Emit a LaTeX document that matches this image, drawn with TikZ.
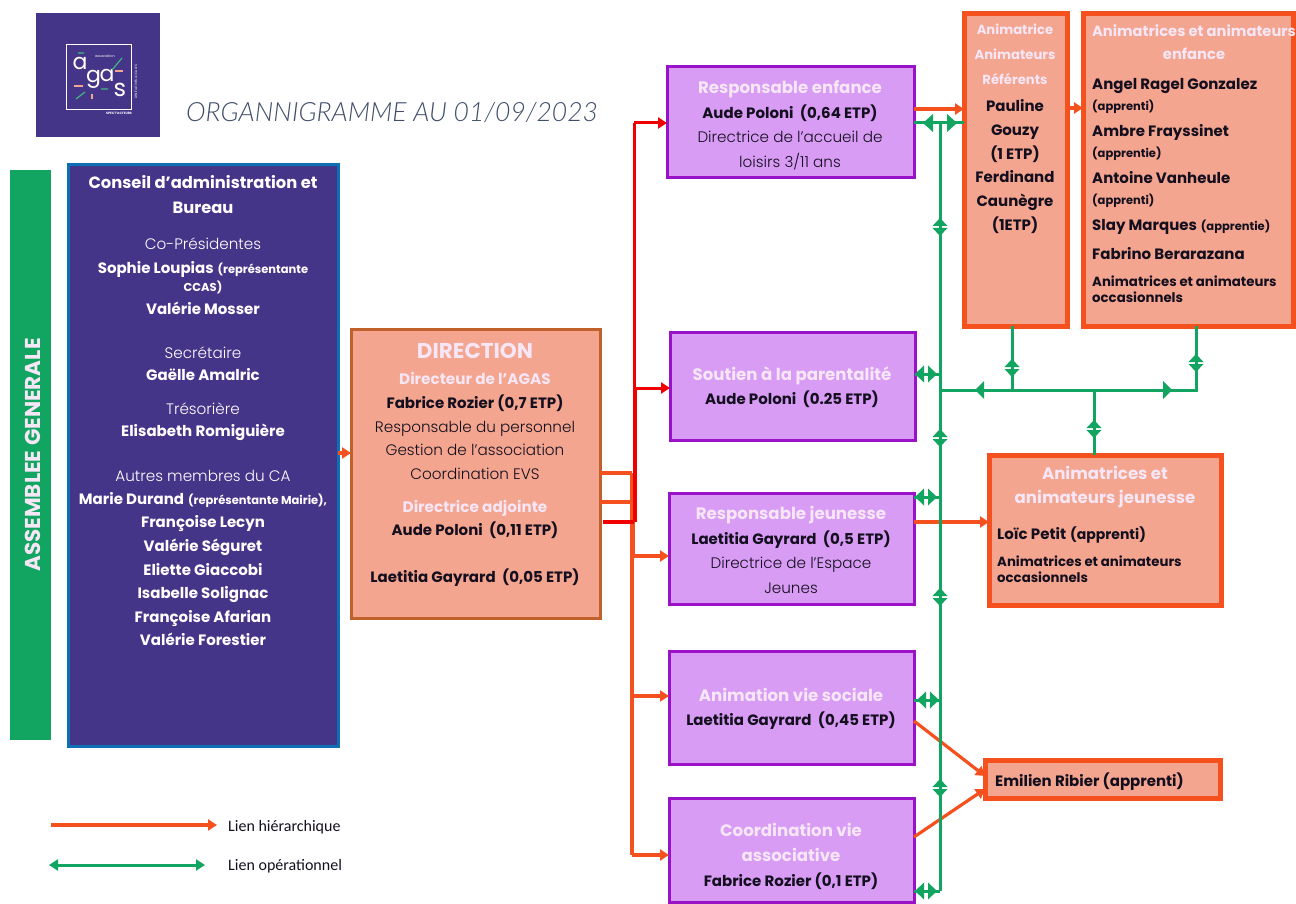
\documentclass[tikz,border=0pt]{standalone}
\usepackage{fontspec}
\setmainfont{Poppins}
\newfontfamily\lightf{Poppins Light}
\newfontfamily\titlef{Lato Light}[ItalicFont=Lato Light Italic]
\newfontfamily\legf{Carlito}
\usetikzlibrary{arrows.meta,calc}
\definecolor{navy}{HTML}{453589}
\definecolor{bleu}{HTML}{0F6FB5}
\definecolor{vert}{HTML}{12A561}
\definecolor{oran}{HTML}{F4511E}
\definecolor{rouge}{HTML}{F00000}
\definecolor{saumon}{HTML}{F4A58F}
\definecolor{brun}{HTML}{C0602A}
\definecolor{violet}{HTML}{9A12C8}
\definecolor{mauve}{HTML}{D89CF5}
\definecolor{pale}{HTML}{F6E6F6}
\definecolor{encre}{HTML}{140F1E}
\definecolor{titre}{HTML}{3F4D68}
\newcommand{\nm}[1]{{\bfseries #1}}
\newcommand{\sm}[1]{{\fontsize{11.5}{22}\selectfont\bfseries #1}}
\newcommand{\hd}[1]{{\color{pale}\fontsize{16.6}{22}\selectfont\bfseries #1}}
\newcommand{\hds}[1]{{\color{pale}\fontsize{14.7}{22}\selectfont\bfseries #1}}
\newcommand{\hdd}[1]{{\color{pale}\fontsize{15.2}{22}\selectfont\bfseries #1}}
\newcommand{\hda}[1]{{\color{pale}\fontsize{13.2}{22}\selectfont\bfseries #1}}
\newcommand{\lt}[1]{{\lightf\fontsize{15.2}{22}\selectfont #1}}
\newcommand{\occ}[1]{{\fontsize{13.3}{16}\selectfont\bfseries #1}}
\newcommand{\gud}[2]{\fill[vert] (#1-7.5,#2-1) -- (#1,#2-9) -- (#1+7.5,#2-1) -- cycle (#1-7.5,#2+1) -- (#1,#2+9) -- (#1+7.5,#2+1) -- cycle;}
\newcommand{\glr}[2]{\fill[vert] (#1-2,#2-8.5) -- (#1-11,#2) -- (#1-2,#2+8.5) -- cycle (#1+2,#2-8.5) -- (#1+11,#2) -- (#1+2,#2+8.5) -- cycle;}
\tikzset{
  box/.style={draw,line width=#1,anchor=north west,inner sep=0pt,outer sep=0pt},
  pbox/.style={box=3pt,draw=violet,fill=mauve},
  obox/.style={box=5pt,draw=oran,fill=saumon},
  txt/.style={anchor=north,align=center,inner sep=0pt,text=encre,font=\fontsize{15}{22}\selectfont},
  ltxt/.style={anchor=north west,align=left,inner sep=0pt,text=encre,font=\fontsize{15}{22}\selectfont},
  hier/.style={draw=oran,line width=3.2pt,-{Triangle[length=9pt,width=11pt]}},
  hierp/.style={draw=oran,line width=3.2pt},
  rg/.style={draw=rouge,line width=3pt},
  op/.style={draw=vert,line width=3pt},
}
\begin{document}
\begin{tikzpicture}[x=1pt,y=-1pt]
\useasboundingbox (0,0) rectangle (1296,904);
% logo
\node[anchor=north west,fill=navy,minimum width=124pt,minimum height=124pt,inner sep=0pt,outer sep=0pt] (logo) at (36,13) {};
\node[draw=white,line width=1.2pt,anchor=north west,minimum width=65pt,minimum height=65pt,inner sep=0pt] (logoin) at (66,44) {};
\node[text=white,inner sep=0pt,font=\fontsize{22}{22}\selectfont] (la1) at (80,63) {a};
\node[text=white,inner sep=0pt,font=\fontsize{22}{22}\selectfont] (lg) at (93.5,79) {g};
\node[text=white,inner sep=0pt,font=\fontsize{22}{22}\selectfont] (la2) at (107,75) {a};
\node[text=white,inner sep=0pt,font=\fontsize{24}{24}\selectfont] (ls) at (120,90) {s};
\node[text=white,inner sep=0pt,font=\fontsize{3.4}{4}\selectfont] (lassoc) at (105,56) {association};
\node[text=white,inner sep=0pt,rotate=90,font=\fontsize{3.2}{4}\selectfont] (lini) at (136,82) {D'INITIATIVES LOCALES};
\node[text=white,inner sep=0pt,font=\fontsize{3.2}{4}\selectfont\bfseries] (lspec) at (119,113) {SPECT'ACTEURS};
\draw[vert!80!white,line width=1.2pt] (112,70) -- (122,58) (76,99) -- (85,92) (101,89) -- (108,89) (78,53) -- (84,53);
\draw[saumon,line width=1.2pt] (115,71) -- (123,71) (74,86) -- (83,86) (92,94) -- (92,99);
% titre
\node[anchor=west,inner sep=0pt,text=titre,font=\fontsize{26.5}{28}\selectfont\titlef\itshape] (titre) at (186,112) {ORGANNIGRAMME AU 01/09/2023};
% assemblee
\node[anchor=north west,fill=vert,minimum width=41pt,minimum height=570pt,inner sep=0pt,outer sep=0pt] (ag) at (10,170) {};
\node[rotate=90,text=pale,inner sep=0pt,font=\fontsize{21.5}{24}\selectfont\bfseries] (agt) at (33,455) {ASSEMBLEE GENERALE};
% conseil
\node[box=3pt,draw=bleu,fill=navy,minimum width=270pt,minimum height=581pt] (ca) at (68,165) {};
\node[txt,text=white] (cat) at (203,175) {%
 {\fontsize{16.3}{22}\selectfont\bfseries Conseil d'administration et}\\[3pt]
 {\fontsize{16.3}{22}\selectfont\bfseries Bureau}\\[14pt]
 \lt{Co-Présidentes}\\[2pt]
 \nm{Sophie Loupias} \sm{(représentante}\\[-4pt]
 \sm{CCAS)}\\[1pt]
 \nm{Valérie Mosser}\\[22pt]
 \lt{Secrétaire}\\
 \nm{Gaëlle Amalric}\\[12pt]
 \lt{Trésorière}\\
 \nm{Elisabeth Romiguière}\\[23pt]
 \lt{Autres membres du CA}\\[1pt]
 \nm{Marie Durand} \sm{(représentante Mairie),}\\[1.6pt]
 \nm{Françoise Lecyn}\\[1.6pt]
 \nm{Valérie Séguret}\\[1.6pt]
 \nm{Eliette Giaccobi}\\[1.6pt]
 \nm{Isabelle Solignac}\\[1.6pt]
 \nm{Françoise Afarian}\\[1.6pt]
 \nm{Valérie Forestier}};
% direction
\node[box=3pt,draw=brun,fill=saumon,minimum width=249pt,minimum height=289pt] (dir) at (351,329) {};
\node[txt] (dirt) at (475,343) {%
 {\color{pale}\fontsize{21.5}{22}\selectfont\bfseries DIRECTION}\\[4pt]
 \hdd{Directeur de l'AGAS}\\[2pt]
 \nm{Fabrice Rozier (0,7 ETP)}\\[2pt]
 \lt{Responsable du personnel}\\[1pt]
 \lt{Gestion de l’association}\\[2pt]
 \lt{Coordination EVS}\\[11pt]
 \hdd{Directrice adjointe}\\[1pt]
 \nm{Aude Poloni\ \ (0,11 ETP)}\\[25pt]
 \nm{Laetitia Gayrard\ \ (0,05 ETP)}};
% violets
\node[pbox,minimum width=247pt,minimum height=111pt] (p1) at (667,67) {};
\node[txt] (p1t) at (790,80) {\hd{Responsable enfance}\\[3pt]\nm{Aude Poloni\ \ (0,64 ETP)}\\[2pt]\lt{Directrice de l’accueil de}\\[3pt]\lt{loisirs 3/11 ans}};
\node[pbox,minimum width=245pt,minimum height=108pt] (p2) at (670,332) {};
\node[txt] (p2t) at (792,366) {\hd{Soutien à la parentalité}\\[2pt]\nm{Aude Poloni\ \ (0.25 ETP)}};
\node[pbox,minimum width=245pt,minimum height=111pt] (p3) at (669,493) {};
\node[txt] (p3t) at (791,506) {\hd{Responsable jeunesse}\\[3pt]\nm{Laetitia Gayrard\ \ (0,5 ETP)}\\[2pt]\lt{Directrice de l’Espace}\\[3pt]\lt{Jeunes}};
\node[pbox,minimum width=245pt,minimum height=113pt] (p4) at (669,651) {};
\node[txt] (p4t) at (791,688) {\hd{Animation vie sociale}\\[2pt]\nm{Laetitia Gayrard\ \ (0,45 ETP)}};
\node[pbox,minimum width=245pt,minimum height=104pt] (p5) at (669,798) {};
\node[txt] (p5t) at (791,823) {\hd{Coordination vie}\\[3pt]\hd{associative}\\[3pt]\nm{Fabrice Rozier (0,1 ETP)}};
% oranges
\node[obox,minimum width=103pt,minimum height=312pt] (an1) at (964,14) {};
\node[txt] (an1t) at (1015,24) {%
 \hda{Animatrice}\\[3pt]
 \hda{Animateurs}\\[3pt]
 \hda{Référents}\\[5pt]
 \nm{Pauline}\\[2pt]\nm{Gouzy}\\[2pt]\nm{(1 ETP)}\\[1pt]\nm{Ferdinand}\\[2pt]\nm{Caunègre}\\[2pt]\nm{(1ETP)}};
\node[obox,minimum width=210pt,minimum height=312pt] (an2) at (1083,14) {};
\node[txt] (an2h) at (1194,24.5) {\hds{Animatrices et animateurs}\\[1pt]\hds{enfance}};
\node[ltxt] (an2t) at (1092,78) {%
 \nm{Angel Ragel Gonzalez}\\[-1pt]
 \sm{(apprenti)}\\[4pt]
 \nm{Ambre Frayssinet}\\[-1pt]
 \sm{(apprentie)}\\[4pt]
 \nm{Antoine Vanheule}\\[-1pt]
 \sm{(apprenti)}\\[4pt]
 \nm{Slay Marques} \sm{(apprentie)}\\[7pt]
 \nm{Fabrino Berarazana}\\[5pt]
 \occ{Animatrices et animateurs}\\[-6pt]
 \occ{occasionnels}};
\node[obox,minimum width=232pt,minimum height=150pt] (anj) at (989,455) {};
\node[txt] (anjh) at (1105,466) {\hd{Animatrices et}\\[2pt]\hd{animateurs jeunesse}};
\node[ltxt] (anjt) at (997,527) {%
 \nm{Loïc Petit} {\fontsize{14}{22}\selectfont\bfseries (apprenti)}\\[5pt]
 \occ{Animatrices et animateurs}\\[-6pt]
 \occ{occasionnels}};
\node[obox,minimum width=235pt,minimum height=38pt] (emi) at (985,760) {};
\node[ltxt] (emit) at (995,772.5) {\nm{Emilien Ribier (apprenti)}};
% hierarchie
\coordinate (h1) at (632,473);
\coordinate (h2) at (632,502);
\coordinate (h3) at (634,522);
\coordinate (hb) at (632,855);
\coordinate (rt) at (634,123);
\draw[hier] (ca.east |- 0,453) -- (dir.west |- 0,453);
\draw[hierp,line width=3.8pt] (dir.east |- h1) -- (h1);
\draw[hierp] (dir.east |- h2) -- (h2);
\draw[hierp] (h1) -- (hb);
\draw[hierp,line width=5pt] (632,520) -- (632,556);
\draw[rg] (rt) -- (634,388);
\draw[rg,line width=4.5pt] (635,388) -- (635,522);
\draw[rg,line width=3.8pt] (603,522) -- (h3);
\draw[rg,-{Triangle[length=9pt,width=11pt]}] (rt) -- (p1.west |- rt);
\draw[rg,-{Triangle[length=9pt,width=11pt]}] (634,388) -- (p2.west |- 0,388);
\draw[hier] (632,556) -- (p3.west |- 0,556);
\draw[hier] (632,696) -- (p4.west |- 0,696);
\draw[hier] (hb) -- (p5.west |- hb);
\draw[hier] (p1.east |- 0,109) -- (an1.west |- 0,109);
\draw[hier] (an1.east |- 0,108) -- (an2.west |- 0,108);
\draw[hier] (p3.east |- 0,522) -- (anj.west |- 0,522);
\draw[hier] (p4.east |- 0,721) -- (emi.west |- 0,776);
\draw[hier] (p5.east |- 0,837) -- (emi.west |- 0,789);
% operationnel
\coordinate (vt) at (940,123);
\coordinate (vb) at (940,891);
\coordinate (hr) at (1196,390);
\draw[op] (vt) -- (vb);
\draw[op] (p1.east |- vt) -- (an1.west |- vt);
\draw[op] (p2.east |- 0,374) -- (940,374);
\draw[op] (p3.east |- 0,497) -- (940,497);
\draw[op] (p4.east |- 0,700) -- (940,700);
\draw[op] (p5.east |- 0,891) -- (vb);
\draw[op] (940,390) -- (hr) -- (hr |- an2.south);
\draw[op] (1012,390) -- (an1.south -| 1012,0);
\draw[op] (1094,390) -- (anj.north -| 1094,0);
\fill[vert] (933,114) -- (933,132) -- (923,123) -- cycle (947,114) -- (947,132) -- (957,123) -- cycle;
\glr{926}{374}\glr{926}{497}\glr{928}{700}\glr{926}{891}
\gud{940}{227}\gud{940}{438}\gud{940}{597}\gud{940}{788}
\gud{1012}{368}\gud{1196}{363}\gud{1094}{429}
\fill[vert] (984,381) -- (984,399) -- (975,390) -- cycle (1163,381) -- (1163,399) -- (1172,390) -- cycle;
% legende
\coordinate (l1a) at (51,825);\coordinate (l1b) at (217,825);
\coordinate (l2a) at (49,865);\coordinate (l2b) at (205,865);
\draw[hier] (l1a) -- (l1b);
\draw[op,{Triangle[length=9pt,width=11pt]}-{Triangle[length=9pt,width=11pt]}] (l2a) -- (l2b);
\node[anchor=west,inner sep=0pt,text=encre,font=\fontsize{16}{18}\selectfont\legf] (l1t) at (228,827) {Lien hiérarchique};
\node[anchor=west,inner sep=0pt,text=encre,font=\fontsize{16}{18}\selectfont\legf] (l2t) at (228,866) {Lien opérationnel};
\end{tikzpicture}
\end{document}
